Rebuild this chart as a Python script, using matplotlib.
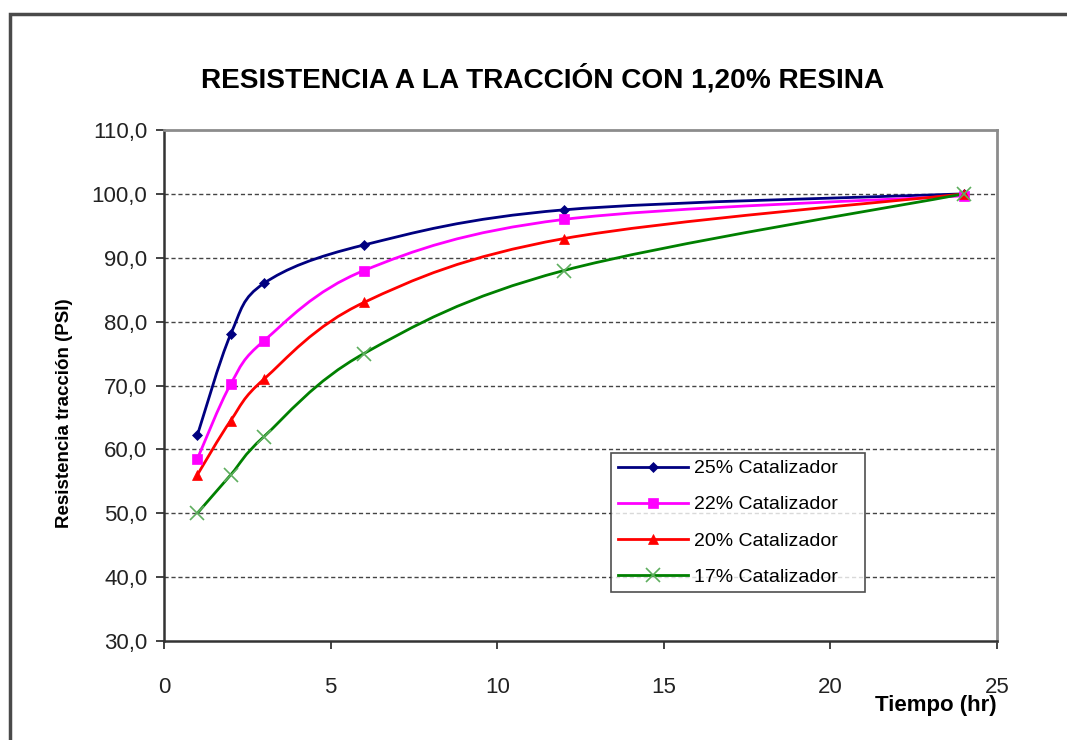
import numpy as np
import matplotlib.pyplot as plt
from matplotlib.path import Path
from matplotlib.patches import PathPatch, Rectangle
from matplotlib.lines import Line2D

plt.rcParams['font.family'] = ['Liberation Sans', 'DejaVu Sans']

tiempo = [1, 2, 3, 6, 12, 24]
cat_25 = [62.2, 78.0, 86.0, 92.0, 97.5, 100.0]
cat_22 = [58.5, 70.2, 77.0, 88.0, 96.0, 99.7]
cat_20 = [56.0, 64.5, 71.0, 83.0, 93.0, 100.0]
cat_17 = [50.0, 56.0, 62.0, 75.0, 88.0, 100.0]
labels = ['25% Catalizador', '22% Catalizador', '20% Catalizador', '17% Catalizador']
y_ticks = [30, 40, 50, 60, 70, 80, 90, 100, 110]
x_ticks = [0, 5, 10, 15, 20, 25]


def smooth_path(x, y):
    # Excel-style smoothed line: cubic Bezier segments through every point
    p = np.column_stack([x, y]).astype(float)
    n = len(p)
    verts = [p[0]]
    codes = [Path.MOVETO]
    for i in range(n - 1):
        prev = p[i - 1] if i > 0 else p[i]
        nxt = p[i + 2] if i + 2 < n else p[i + 1]
        c1 = p[i] + (p[i + 1] - prev) / 6
        c2 = p[i + 1] - (nxt - p[i]) / 6
        verts += [c1, c2, p[i + 1]]
        codes += [Path.CURVE4] * 3
    return Path(verts, codes)


fig = plt.figure(figsize=(10.67, 7.4), dpi=100)
fig.patches.append(Rectangle((0.0094, -0.05), 1.1, 1.031, transform=fig.transFigure,
                             fill=False, edgecolor='#4a4a4a', linewidth=2.5))

ax = fig.add_axes([0.1537, 0.1338, 0.7807, 0.6905])

series = [
    (cat_25, '#000080', 'D', 5, '#000080'),
    (cat_22, '#FF00FF', 's', 7, '#FF00FF'),
    (cat_20, '#FF0000', '^', 7, '#FF0000'),
    (cat_17, '#008000', 'x', 10, '#5fae5f'),
]
handles = []
for (vals, col, mk, ms, mcol), lab in zip(series, labels):
    ax.add_patch(PathPatch(smooth_path(tiempo, vals), facecolor='none',
                           edgecolor=col, linewidth=2, zorder=3))
    ax.plot(tiempo, vals, linestyle='none', marker=mk, markersize=ms,
            color=mcol, markeredgewidth=1.2 if mk == 'x' else 0.5, zorder=4)
    handles.append(Line2D([], [], color=col, linewidth=2, marker=mk,
                          markersize=ms, markerfacecolor=mcol, markeredgecolor=mcol,
                          markeredgewidth=1.2 if mk == 'x' else 0.5))

ax.set_xlim(0, 25)
ax.set_ylim(30, 110)
ax.set_xticks(x_ticks)
ax.set_yticks(y_ticks)
ax.set_yticklabels([f'{v:.1f}'.replace('.', ',') for v in y_ticks])
ax.tick_params(axis='y', direction='out', length=6, width=1.2, labelsize=16, pad=6, colors='#222222')
ax.tick_params(axis='x', direction='out', length=6, width=1.2, labelsize=16, pad=20, colors='#222222')

for v in y_ticks[1:-1]:
    ax.axhline(v, color='#444444', linestyle=(0, (3, 2)), linewidth=1, zorder=1)

ax.spines['top'].set_color('#8c8c8c')
ax.spines['right'].set_color('#8c8c8c')
ax.spines['top'].set_linewidth(2)
ax.spines['right'].set_linewidth(2)
ax.spines['left'].set_color('#333333')
ax.spines['bottom'].set_color('#333333')
ax.spines['left'].set_linewidth(1.8)
ax.spines['bottom'].set_linewidth(1.8)

fig.text(0.509, 0.894, 'RESISTENCIA A LA TRACCIÓN CON 1,20% RESINA',
         ha='center', va='center', fontsize=20.2, fontweight='bold')
fig.text(0.060, 0.442, 'Resistencia tracción (PSI)', rotation=90,
         ha='center', va='center', fontsize=13.5, fontweight='bold')
fig.text(0.9344, 0.046, 'Tiempo (hr)', ha='right', va='center',
         fontsize=16, fontweight='bold')

leg = ax.legend(handles, labels, loc='upper left', bbox_to_anchor=(0.5366, 0.0, 0.305, 0.368),
                mode='expand', fontsize=14, frameon=True, fancybox=False, borderaxespad=0,
                handlelength=3.6, borderpad=0.35, labelspacing=0.95, handletextpad=0.3)
leg.get_frame().set_edgecolor('#222222')
leg.get_frame().set_linewidth(1.2)

fig.savefig('out.png', dpi=100)
